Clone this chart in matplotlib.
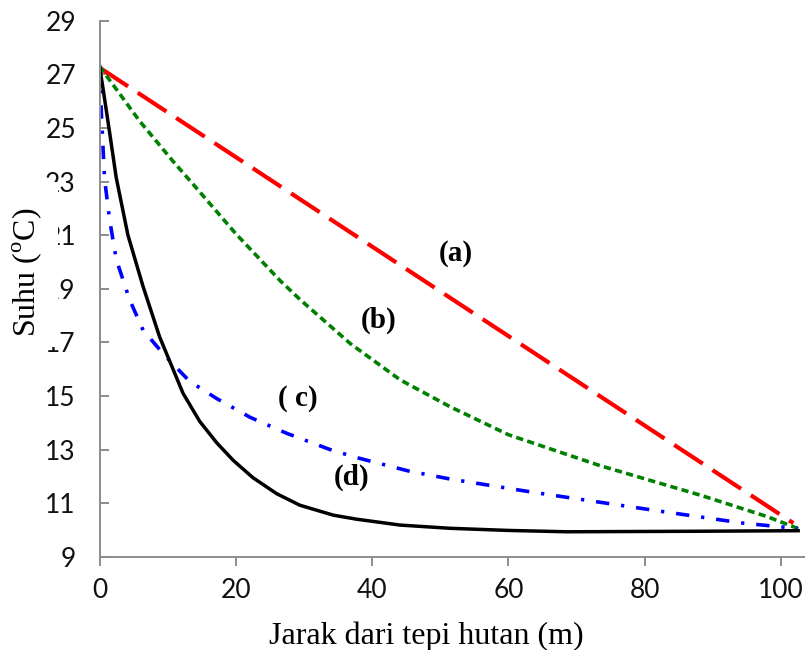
import numpy as np
import matplotlib
matplotlib.use('Agg')
import matplotlib.pyplot as plt
from matplotlib.patches import Rectangle

# distance from forest edge (m) and temperature (C)
xa = [0, 101.8]
ya = [27.25, 10.25]

xb = [0, 5.9, 10.8, 14.75, 20, 26.5, 29.4, 36.8, 44.1, 51.4, 60, 73.4, 88.1, 97.9, 102.5]
yb = [27.3, 25.25, 23.75, 22.6, 21.05, 19.3, 18.6, 16.95, 15.6, 14.6, 13.55, 12.4, 11.3, 10.5, 10.05]

xc = [0, 0.3, 0.74, 1.47, 2.45, 4.4, 6.4, 9.6, 13.2, 17.2, 22.1, 27.5, 33.8, 37.7, 45.3, 51.4, 63.7, 82.2, 94.5, 102.5]
yc = [27.35, 25.4, 23.1, 21.6, 20.1, 18.6, 17.45, 16.5, 15.55, 14.9, 14.2, 13.6, 13.0, 12.7, 12.2, 11.9, 11.4, 10.7, 10.25, 10.05]

xd = [0, 0.5, 1.5, 2.45, 4.17, 6.37, 8.82, 12.25, 14.7, 17.2, 19.6, 22.5, 26.0, 29.4, 34.3, 37.7, 44.1, 51.4, 60, 68.6, 88.1, 102.5]
yd = [27.3, 26.5, 24.8, 23.15, 21.0, 19.1, 17.2, 15.1, 14.05, 13.25, 12.6, 11.95, 11.35, 10.92, 10.55, 10.4, 10.18, 10.06, 9.98, 9.93, 9.95, 9.97]

labels = ['(a)', '(b)', '( c)', '(d)']
label_x = [52.2, 40.9, 29.1, 37.0]
label_y = [20.33, 17.83, 14.92, 11.97]

xticks = [0, 20, 40, 60, 80, 100]
yticks = list(range(9, 30, 2))

W, H = 805, 650
fig = plt.figure(figsize=(W / 100, H / 100), dpi=100)
ax = fig.add_axes([99.5 / W, 1 - 556.7 / H, (W - 99.5) / W, (556.7 - 20.7) / H])

ax.plot(xa, ya, color='#ff0000', lw=3, dashes=(8.2, 2.8))
ax.plot(xb, yb, color='#008000', lw=2.6, dashes=(2.0, 1.2))
ax.plot(xc, yc, color='#0000ff', lw=2.6, dashes=(3.7, 3.3, 0.9, 3.3))
ax.plot(xd, yd, color='black', lw=2.5, solid_joinstyle='round')

for t, x, y in zip(labels, label_x, label_y):
    ax.text(x, y, t, ha='center', va='center', fontsize=21, fontweight='bold',
            family='Liberation Serif')

ax.set_xlim(0, 103.5)
ax.set_ylim(9, 29)
ax.set_xticks(xticks)
ax.set_yticks(yticks)

for s in ['top', 'right']:
    ax.spines[s].set_visible(False)
for s in ['left', 'bottom']:
    ax.spines[s].set_color('#8c8c8c')
    ax.spines[s].set_linewidth(1.4)

ax.tick_params(axis='x', direction='out', length=6.5, width=1.4, color='#8c8c8c',
               pad=9, labelsize=19)
ax.tick_params(axis='y', direction='in', length=6.5, width=1.4, color='#8c8c8c',
               pad=17, labelsize=19)
for lab in ax.get_xticklabels() + ax.get_yticklabels():
    lab.set_family('Lato')
    lab.set_color('#111111')

ax.set_xlabel('Jarak dari tepi hutan (m)', fontsize=23, family='Liberation Serif', va='center')
ax.xaxis.set_label_coords((426 - 99.5) / 705.5, -(636 - 556.7) / 536)

# y label sits over the tick labels with a white patch behind it
fig.add_artist(Rectangle((0, 1 - 347 / H), 58 / W, (347 - 182) / H, transform=fig.transFigure,
                         facecolor='white', edgecolor='none', zorder=5))
fig.text(27 / W, 1 - 272 / H, r'Suhu ($^{\mathregular{o}}$C)', rotation=90, ha='center',
         va='center', fontsize=23, family='Liberation Serif', zorder=6)

fig.savefig('out.png', dpi=100)
